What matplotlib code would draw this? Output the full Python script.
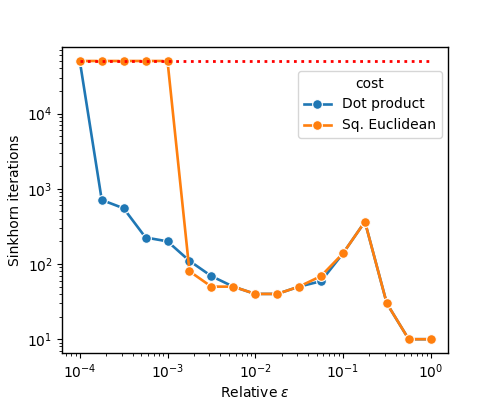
import numpy as np
import pandas as pd
import matplotlib
matplotlib.use("Agg")
import matplotlib.pyplot as plt
import seaborn as sns

eps = [1e-4, 1.78e-4, 3.16e-4, 5.62e-4, 1e-3, 1.78e-3, 3.16e-3, 5.62e-3,
       1e-2, 1.78e-2, 3.16e-2, 5.62e-2, 1e-1, 1.78e-1, 3.16e-1, 5.62e-1, 1.0]
dot_product = [50000, 710, 550, 225, 200, 110, 69, 50, 40, 40, 50, 59, 138, 365, 30, 10, 10]
sq_euclidean = [50000, 50000, 50000, 50000, 50000, 80, 50, 50, 40, 40, 50, 69, 138, 365, 30, 10, 10]
max_iter = 50000
costs = ["Dot product", "Sq. Euclidean"]

df = pd.DataFrame({
    "eps": eps * 2,
    "iters": dot_product + sq_euclidean,
    "cost": [costs[0]] * len(eps) + [costs[1]] * len(eps),
})

fig = plt.figure(figsize=(4.98, 3.99), dpi=100)
ax = fig.add_axes([0.125, 0.115, 0.775, 0.767])
sns.lineplot(data=df, x="eps", y="iters", hue="cost", marker="o", ax=ax,
             linewidth=1.9, markersize=7, markeredgecolor="white", markeredgewidth=0.8)
ax.plot(eps, [max_iter] * len(eps), color="red", linestyle=":", linewidth=2)
ax.set_xscale("log")
ax.set_yscale("log")
ax.set_xlabel(r"Relative $\varepsilon$", labelpad=2.5)
ax.set_ylabel("Sinkhorn iterations")
for s in ax.spines.values():
    s.set_linewidth(1.0)
ax.legend(title="cost", loc="upper right", bbox_to_anchor=(0.984, 0.922), borderaxespad=0)
fig.savefig("out.png", dpi=100)
